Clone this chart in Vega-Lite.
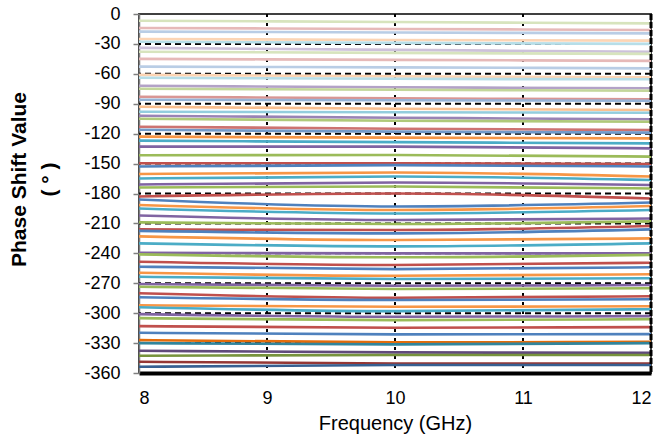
{
  "$schema": "https://vega.github.io/schema/vega-lite/v6.json",
  "width": 512,
  "height": 359,
  "autosize": "none",
  "padding": {"left": 139, "top": 14, "right": 16, "bottom": 68},
  "background": "white",
  "config": {
    "view": {"stroke": "#404040", "strokeWidth": 2},
    "font": "Liberation Sans",
    "axis": {"labelFont": "Liberation Sans", "titleFont": "Liberation Sans", "labelColor": "#000", "titleColor": "#000", "grid": false, "labelOverlap": false, "labelBound": false},
    "axisX": {"labelExpr": "toString(datum.value)", "titleFontSize": 20, "titleFontWeight": "normal", "titlePadding": 6, "labelFontSize": 18, "labelPadding": 16, "ticks": false, "domainColor": "#000", "domainWidth": 4},
    "axisY": {"labelExpr": "toString(datum.value)", "titleFontSize": 21, "titleFontWeight": "bold", "titleLineHeight": 30, "titlePadding": 24, "titleY": 165, "labelFontSize": 18, "labelPadding": 13, "tickSize": 6, "tickColor": "#808080", "tickWidth": 1.5, "domainColor": "#808080", "domainWidth": 1.5}
  },
  "datasets": {
    "lines": [
      {"k":1,"f":8,"p":-6.7},{"k":1,"f":10,"p":-8},{"k":1,"f":12,"p":-9.4},
      {"k":2,"f":8,"p":-14},{"k":2,"f":10,"p":-15},{"k":2,"f":12,"p":-16},
      {"k":3,"f":8,"p":-17.7},{"k":3,"f":10,"p":-18.5},{"k":3,"f":12,"p":-19.4},
      {"k":4,"f":8,"p":-25},{"k":4,"f":10,"p":-26},{"k":4,"f":12,"p":-26.7},
      {"k":5,"f":8,"p":-27.8},{"k":5,"f":10,"p":-29},{"k":5,"f":12,"p":-30},
      {"k":6,"f":8,"p":-34},{"k":6,"f":10,"p":-36},{"k":6,"f":12,"p":-37.8},
      {"k":7,"f":8,"p":-37.8},{"k":7,"f":10,"p":-39},{"k":7,"f":12,"p":-40},
      {"k":8,"f":8,"p":-45},{"k":8,"f":10,"p":-46},{"k":8,"f":12,"p":-47},
      {"k":9,"f":8,"p":-52.8},{"k":9,"f":10,"p":-53.5},{"k":9,"f":12,"p":-54.5},
      {"k":10,"f":8,"p":-61},{"k":10,"f":10,"p":-62.5},{"k":10,"f":12,"p":-63.5},
      {"k":11,"f":8,"p":-64},{"k":11,"f":10,"p":-65},{"k":11,"f":12,"p":-65.5},
      {"k":12,"f":8,"p":-72},{"k":12,"f":10,"p":-73.5},{"k":12,"f":12,"p":-74.5},
      {"k":13,"f":8,"p":-75},{"k":13,"f":10,"p":-76},{"k":13,"f":12,"p":-77},
      {"k":14,"f":8,"p":-83},{"k":14,"f":10,"p":-84.5},{"k":14,"f":12,"p":-85.6},
      {"k":15,"f":8,"p":-86},{"k":15,"f":10,"p":-86.5},{"k":15,"f":12,"p":-87},
      {"k":16,"f":8,"p":-93},{"k":16,"f":10,"p":-95},{"k":16,"f":12,"p":-96.3},
      {"k":17,"f":8,"p":-98},{"k":17,"f":10,"p":-98.5},{"k":17,"f":12,"p":-99},
      {"k":18,"f":8,"p":-102},{"k":18,"f":10,"p":-104},{"k":18,"f":12,"p":-105.6},
      {"k":19,"f":8,"p":-105},{"k":19,"f":10,"p":-107},{"k":19,"f":12,"p":-108},
      {"k":20,"f":8,"p":-113},{"k":20,"f":10,"p":-115},{"k":20,"f":12,"p":-116.4},
      {"k":21,"f":8,"p":-116},{"k":21,"f":10,"p":-118},{"k":21,"f":12,"p":-119},
      {"k":22,"f":8,"p":-123},{"k":22,"f":10,"p":-124},{"k":22,"f":12,"p":-124.7},
      {"k":23,"f":8,"p":-127},{"k":23,"f":10,"p":-128.5},{"k":23,"f":12,"p":-129.7},
      {"k":24,"f":8,"p":-133},{"k":24,"f":10,"p":-133},{"k":24,"f":12,"p":-134.7},
      {"k":25,"f":8,"p":-141.7},{"k":25,"f":10,"p":-141.4},{"k":25,"f":12,"p":-143},
      {"k":26,"f":8,"p":-149.7},{"k":26,"f":10,"p":-149.7},{"k":26,"f":12,"p":-150.5},
      {"k":27,"f":8,"p":-153},{"k":27,"f":10,"p":-151.5},{"k":27,"f":12,"p":-153},
      {"k":28,"f":8,"p":-160.5},{"k":28,"f":10,"p":-159},{"k":28,"f":12,"p":-163},
      {"k":29,"f":8,"p":-165},{"k":29,"f":10,"p":-163},{"k":29,"f":12,"p":-166.5},
      {"k":30,"f":8,"p":-171},{"k":30,"f":10,"p":-169},{"k":30,"f":12,"p":-171.5},
      {"k":31,"f":8,"p":-174},{"k":31,"f":10,"p":-173},{"k":31,"f":12,"p":-175},
      {"k":32,"f":8,"p":-183},{"k":32,"f":10,"p":-180},{"k":32,"f":12,"p":-185},
      {"k":33,"f":8,"p":-186},{"k":33,"f":10,"p":-193},{"k":33,"f":12,"p":-189},
      {"k":34,"f":8,"p":-191.5},{"k":34,"f":10,"p":-196.6},{"k":34,"f":12,"p":-192.6},
      {"k":35,"f":8,"p":-195},{"k":35,"f":10,"p":-200},{"k":35,"f":12,"p":-196.6},
      {"k":36,"f":8,"p":-202},{"k":36,"f":10,"p":-206.6},{"k":36,"f":12,"p":-205},
      {"k":37,"f":8,"p":-209},{"k":37,"f":10,"p":-210.6},{"k":37,"f":12,"p":-208},
      {"k":38,"f":8,"p":-216},{"k":38,"f":10,"p":-216.6},{"k":38,"f":12,"p":-212.6},
      {"k":39,"f":8,"p":-217.5},{"k":39,"f":10,"p":-220},{"k":39,"f":12,"p":-216},
      {"k":40,"f":8,"p":-223},{"k":40,"f":10,"p":-226.7},{"k":40,"f":12,"p":-225},
      {"k":41,"f":8,"p":-230},{"k":41,"f":10,"p":-233},{"k":41,"f":12,"p":-230},
      {"k":42,"f":8,"p":-239.4},{"k":42,"f":10,"p":-240},{"k":42,"f":12,"p":-240},
      {"k":43,"f":8,"p":-241},{"k":43,"f":10,"p":-244},{"k":43,"f":12,"p":-241.5},
      {"k":44,"f":8,"p":-248.4},{"k":44,"f":10,"p":-251.7},{"k":44,"f":12,"p":-249.4},
      {"k":45,"f":8,"p":-253.4},{"k":45,"f":10,"p":-255.8},{"k":45,"f":12,"p":-254},
      {"k":46,"f":8,"p":-259.5},{"k":46,"f":10,"p":-262.5},{"k":46,"f":12,"p":-261},
      {"k":47,"f":8,"p":-263.5},{"k":47,"f":10,"p":-265.8},{"k":47,"f":12,"p":-265},
      {"k":48,"f":8,"p":-270.8},{"k":48,"f":10,"p":-272.5},{"k":48,"f":12,"p":-271.8},
      {"k":49,"f":8,"p":-273.5},{"k":49,"f":10,"p":-275.8},{"k":49,"f":12,"p":-275},
      {"k":50,"f":8,"p":-280},{"k":50,"f":10,"p":-284.5},{"k":50,"f":12,"p":-283},
      {"k":51,"f":8,"p":-284},{"k":51,"f":10,"p":-286.8},{"k":51,"f":12,"p":-286},
      {"k":52,"f":8,"p":-292},{"k":52,"f":10,"p":-293.6},{"k":52,"f":12,"p":-293},
      {"k":53,"f":8,"p":-294},{"k":53,"f":10,"p":-298},{"k":53,"f":12,"p":-296},
      {"k":54,"f":8,"p":-301},{"k":54,"f":10,"p":-303.6},{"k":54,"f":12,"p":-303},
      {"k":55,"f":8,"p":-305},{"k":55,"f":10,"p":-307},{"k":55,"f":12,"p":-306},
      {"k":56,"f":8,"p":-313},{"k":56,"f":10,"p":-314.6},{"k":56,"f":12,"p":-314},
      {"k":57,"f":8,"p":-319.6},{"k":57,"f":10,"p":-321.3},{"k":57,"f":12,"p":-321},
      {"k":58,"f":8,"p":-327},{"k":58,"f":10,"p":-329.3},{"k":58,"f":12,"p":-328.7},
      {"k":59,"f":8,"p":-330},{"k":59,"f":10,"p":-331.3},{"k":59,"f":12,"p":-330},
      {"k":60,"f":8,"p":-337.7},{"k":60,"f":10,"p":-339.3},{"k":60,"f":12,"p":-339.7},
      {"k":61,"f":8,"p":-342.7},{"k":61,"f":10,"p":-342},{"k":61,"f":12,"p":-342},
      {"k":62,"f":8,"p":-348.7},{"k":62,"f":10,"p":-350.4},{"k":62,"f":12,"p":-350.4},
      {"k":63,"f":8,"p":-353.8},{"k":63,"f":10,"p":-352},{"k":63,"f":12,"p":-352}
    ],
    "h": [{"y":-30},{"y":-60},{"y":-90},{"y":-120},{"y":-150},{"y":-180},{"y":-210},{"y":-240},{"y":-270},{"y":-300},{"y":-330}],
    "v": [{"x":9},{"x":10},{"x":11}],
    "r": [{"x":12}]
  },
  "layer": [
    {
      "data": {"name": "h"},
      "mark": {"type": "rule", "color": "#000", "strokeWidth": 2, "strokeDash": [6, 4]},
      "encoding": {"y": {"field": "y", "type": "quantitative", "title": ["Phase Shift Value", "(  °  )"], "scale": {"domain": [-360, 0], "nice": false, "zero": false}, "axis": {"values": [0, -30, -60, -90, -120, -150, -180, -210, -240, -270, -300, -330, -360]}}}
    },
    {
      "data": {"name": "v"},
      "mark": {"type": "rule", "color": "#000", "strokeWidth": 2, "strokeDash": [3, 6]},
      "encoding": {"x": {"field": "x", "type": "quantitative", "title": "Frequency (GHz)", "scale": {"domain": [8, 12], "nice": false, "zero": false}, "axis": {"values": [8, 9, 10, 11, 12]}}}
    },
    {
      "data": {"name": "lines"},
      "mark": {"type": "line", "strokeWidth": 2.6, "interpolate": "monotone", "clip": true},
      "encoding": {
        "x": {"field": "f", "type": "quantitative", "title": "Frequency (GHz)", "axis": {"values": [8, 9, 10, 11, 12]}},
        "y": {"field": "p", "type": "quantitative", "title": ["Phase Shift Value", "(  °  )"], "axis": {"values": [0, -30, -60, -90, -120, -150, -180, -210, -240, -270, -300, -330, -360]}},
        "detail": {"field": "k", "type": "nominal"},
        "color": {
          "field": "k", "type": "nominal", "legend": null,
          "scale": {
            "domain": [1,2,3,4,5,6,7,8,9,10,11,12,13,14,15,16,17,18,19,20,21,22,23,24,25,26,27,28,29,30,31,32,33,34,35,36,37,38,39,40,41,42,43,44,45,46,47,48,49,50,51,52,53,54,55,56,57,58,59,60,61,62,63],
            "range": ["#D7E4BD","#E6B9B8","#B9CDE5","#FCD5B5","#B7DEE8","#CCC1DA","#D7E4BD","#E6B9B8","#B9CDE5","#FCD5B5","#B7DEE8","#B3A2C7","#C3D69B","#D99694","#95B3D7","#FAC090","#93CDDD","#9983B5","#AFC97A","#CD7371","#729ACA","#F79646","#4BACC6","#8064A2","#9BBB59","#C0504D","#4F81BD","#F79646","#4BACC6","#8064A2","#9BBB59","#C0504D","#4F81BD","#F79646","#4BACC6","#8064A2","#9BBB59","#C0504D","#4F81BD","#F79646","#4BACC6","#8064A2","#9BBB59","#C0504D","#4F81BD","#F79646","#4BACC6","#8064A2","#9BBB59","#C0504D","#4F81BD","#F79646","#4BACC6","#8064A2","#9BBB59","#C0504D","#4F81BD","#E46C0A","#31859C","#604A7B","#77933C","#953735","#376092"]
          }
        }
      }
    },
    {
      "data": {"name": "r"},
      "mark": {"type": "rule", "color": "#000", "strokeWidth": 3, "strokeDash": [6, 2]},
      "encoding": {"x": {"field": "x", "type": "quantitative", "title": "Frequency (GHz)", "axis": {"values": [8, 9, 10, 11, 12]}}}
    }
  ]
}
